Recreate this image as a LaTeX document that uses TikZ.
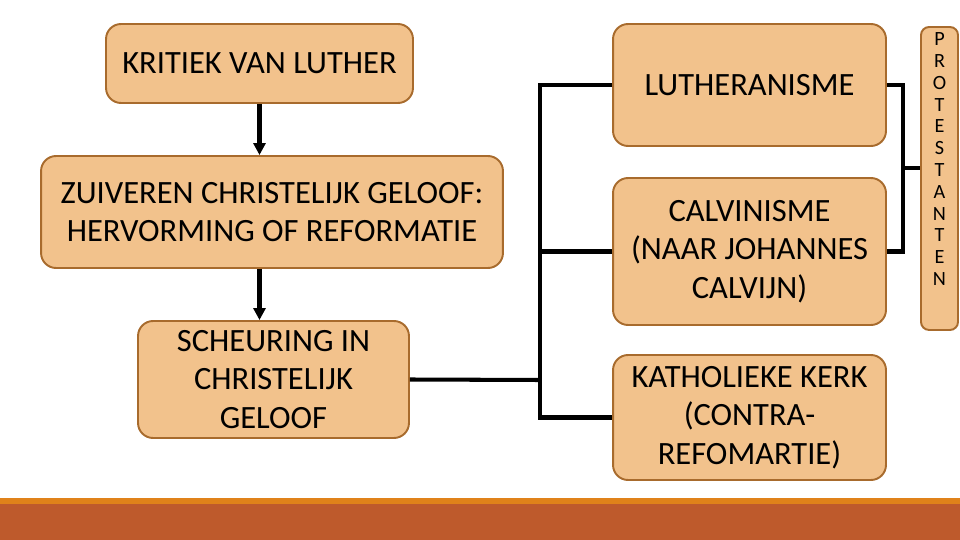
\documentclass[tikz,border=0pt]{standalone}
\usepackage{fontspec}
\setmainfont{Carlito}
\usetikzlibrary{positioning, arrows.meta, calc}
\usepackage{xcolor}
\definecolor{myfill}{HTML}{F2C28C}
\definecolor{myedge}{HTML}{A86B2D}
\definecolor{myorange}{HTML}{E0821A}
\definecolor{mydark}{HTML}{BE5A2C}

\begin{document}
\begin{tikzpicture}[
    x=0.02cm, y=-0.02cm,
    font=\fontsize{18.5}{22}\selectfont,
    box/.style={
      rectangle, rounded corners=0.3cm,
      draw=myedge, line width=1.1pt,
      fill=myfill, align=center,
      inner sep=2pt
    },
    side/.style={
      rectangle, rounded corners=0.16cm,
      draw=myedge, line width=1.1pt,
      fill=myfill, inner sep=0pt,
      minimum width=0.74cm, minimum height=6.06cm,
      font=\fontsize{11.5}{12.4}\selectfont
    },
    arr/.style={-{Triangle[length=0.24cm, width=0.24cm]}, line width=2.3pt},
    link/.style={line width=2.3pt}
  ]
  % Rand
  \useasboundingbox (0,0) rectangle (960,540);
  \fill[myorange] (0,498) rectangle (960,504);
  \fill[mydark] (0,504) rectangle (960,540);
  % Linkerkolom
  \node[box, minimum width=6.14cm, minimum height=1.58cm] (kritiek) at (259.5,63.5) {KRITIEK VAN LUTHER};
  \node[box, minimum width=9.24cm, minimum height=2.24cm] (zuiveren) at (272,212) {ZUIVEREN CHRISTELIJK GELOOF:\\HERVORMING OF REFORMATIE};
  \node[box, minimum width=5.42cm, minimum height=2.34cm] (scheur) at (273.5,379.5) {SCHEURING IN\\CHRISTELIJK\\GELOOF};
  % Rechterkolom
  \node[box, minimum width=5.46cm, minimum height=2.44cm] (luth) at (749.5,85) {LUTHERANISME};
  \node[box, minimum width=5.46cm, minimum height=2.94cm] (calv) at (749.5,251.5) {CALVINISME\\(NAAR JOHANNES\\CALVIJN)};
  \node[box, minimum width=5.46cm, minimum height=2.5cm] (kath) at (749.5,417.5) {KATHOLIEKE KERK\\(CONTRA-\\REFOMARTIE)};
  % Protestanten
  \node[side] (prot) at (939.5,178.5) {\parbox[c][5.9cm][t]{0.6cm}{\centering\vspace{1pt}P\\R\\O\\T\\E\\S\\T\\A\\N\\T\\E\\N}};
  \coordinate (split) at (540,380);
  \coordinate (brace) at (903,168);
  % Pijlen
  \draw[arr] (kritiek.south) -- (kritiek.south |- zuiveren.north);
  \draw[arr] (kritiek.south |- zuiveren.south) -- (kritiek.south |- scheur.north);
  % Splitsing
  \draw[link] (scheur.east) -- (split);
  \draw[link] (luth.west) -| (split) |- (kath.west);
  \draw[link] (calv.west) -- (calv.west -| split);
  % Accolade
  \draw[link] (luth.east) -| (brace) |- (calv.east);
  \draw[link] (brace) -- (brace -| prot.west);
\end{tikzpicture}
\end{document}
